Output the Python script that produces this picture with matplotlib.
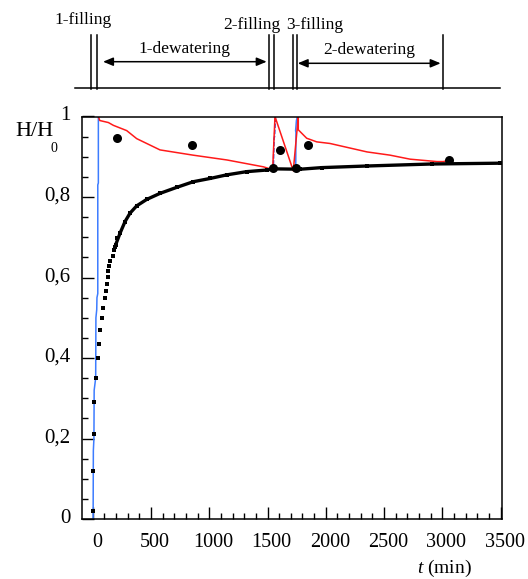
import matplotlib
matplotlib.use('Agg')
import matplotlib.pyplot as plt
import matplotlib.transforms as mtransforms
from matplotlib.ticker import MultipleLocator, FuncFormatter

plt.rcParams['font.family'] = ['Liberation Serif', 'DejaVu Serif']
plt.rcParams['mathtext.fontset'] = 'custom'
plt.rcParams['mathtext.rm'] = 'Liberation Serif'
plt.rcParams['mathtext.it'] = 'Liberation Serif:italic'

# model curve, early part (separate dots)
dots_t = [0, 5, 11, 13, 31, 48, 51, 62, 79, 91, 108, 114, 120, 128, 134, 142, 151, 176, 182, 197, 208]
dots_h = [0.02, 0.12, 0.21, 0.29, 0.35, 0.40, 0.435, 0.47, 0.50, 0.523, 0.548, 0.567, 0.583, 0.602,
          0.616, 0.629, 0.641, 0.653, 0.668, 0.68, 0.697]
# model curve, later part (dense -> thick line)
model_t = [191, 234, 277, 320, 377, 463, 577, 721, 863, 1006, 1150, 1321, 1493, 1547, 1779, 1965,
           2351, 2909, 3495]
model_h = [0.677, 0.71, 0.739, 0.76, 0.778, 0.794, 0.809, 0.824, 0.838, 0.846, 0.855, 0.863, 0.867,
           0.87, 0.869, 0.873, 0.877, 0.882, 0.884]

# measured points
meas_t = [211, 852, 1550, 1607, 1744, 1850, 3060]
meas_h = [0.946, 0.928, 0.871, 0.918, 0.871, 0.929, 0.892]

# red curve
red_t = [48, 60, 134, 177, 291, 377, 577, 860, 1152, 1464, 1544, 1564, 1721, 1764, 1764, 1836, 1922,
         2036, 2354, 2551, 2723, 2955, 3009, 3066]
red_h = [1.0, 0.99, 0.985, 0.978, 0.965, 0.945, 0.917, 0.904, 0.892, 0.875, 0.868, 1.0, 0.865, 1.0,
         0.967, 0.946, 0.937, 0.933, 0.912, 0.904, 0.894, 0.888, 0.888, 0.892]

# filling curves
fill1_t = [3, 5, 10, 12, 25, 27, 34, 36, 43, 43, 48, 48]
fill1_h = [0.0, 0.17, 0.2, 0.32, 0.35, 0.5, 0.52, 0.55, 0.56, 0.83, 0.835, 1.0]
fill2_t = [1550, 1552, 1553, 1556, 1560, 1568]
fill2_h = [0.865, 0.90, 0.91, 0.945, 0.95, 1.0]
fill3_t = [1742, 1744, 1741, 1748, 1756]
fill3_h = [0.865, 0.96, 0.965, 0.99, 1.0]

# phase scheme on top
phase_lines = [-15, 39, 1513, 1558, 1721, 1750, 3003]
phase_names = ['1-filling', '2-filling', '3-filling']
phase_name_t = [-79, 1362, 1907]
dewater_names = ['1-dewatering', '2-dewatering']
dewater_from = [88, 1759]
dewater_to = [1493, 2986]

W, H = 528, 579
fig = plt.figure(figsize=(W / 100, H / 100), dpi=100)
ax = fig.add_axes([81.7 / W, 60 / H, 420 / W, 402.5 / H])

ax.plot(fill1_t, fill1_h, color='#3d7cff', lw=1.1)
ax.plot(fill2_t, fill2_h, color='#1d35d8', lw=1.1, ls=(0, (3, 1)))
ax.plot(fill3_t, fill3_h, color='#3d7cff', lw=1.1)
ax.plot(red_t, red_h, color='#ff1a1a', lw=1.1)
ax.plot(dots_t, dots_h, 's', color='black', ms=2.6, mew=0)
ax.plot(model_t, model_h, '-s', color='black', lw=2.4, ms=2.6, mew=0)
ax.plot(meas_t, meas_h, 'o', color='black', ms=6.5, mew=0)

ax.set_xlim(-95, 3510)
ax.set_ylim(0, 1)
ax.xaxis.set_major_locator(MultipleLocator(500))
ax.xaxis.set_minor_locator(MultipleLocator(100))
ax.yaxis.set_major_locator(MultipleLocator(0.2))
ax.yaxis.set_minor_locator(MultipleLocator(0.05))


def fmt(v, pos):
    if abs(v) < 1e-9:
        return '0'
    if abs(v - 1) < 1e-9:
        return '1'
    return ('%.1f' % v).replace('.', ',')


ax.yaxis.set_major_formatter(FuncFormatter(fmt))
ax.tick_params(which='both', direction='in', top=False, right=False, width=1)
ax.tick_params(which='major', length=8.3)
ax.tick_params(which='minor', length=4.5)
ax.tick_params(axis='x', pad=10, labelsize=14.5)
ax.tick_params(axis='y', pad=8, labelsize=15)
for s in ax.spines.values():
    s.set_linewidth(1.1)
shift_x = mtransforms.ScaledTranslation(4 / 100, 0, fig.dpi_scale_trans)
for lab in ax.get_xticklabels():
    lab.set_transform(lab.get_transform() + shift_x)
shift_y = mtransforms.ScaledTranslation(0, 3 / 100, fig.dpi_scale_trans)
for lab in ax.get_yticklabels():
    lab.set_transform(lab.get_transform() + shift_y)

fig.text(53 / W, 1 - 131.5 / H, 'H/H', fontsize=16, va='center', ha='right')
fig.text(53.5 / W, 1 - 148 / H, '0', fontsize=10, va='center', ha='center')
fig.text(444 / W, 1 - 568 / H, '$t$ (min)', fontsize=14, va='center', ha='center')

# top scheme
top = fig.add_axes([81.7 / W, 1 - 100 / H, 420 / W, 90 / H])
top.set_xlim(ax.get_xlim())
top.set_ylim(0, 90)
top.axis('off')
top.plot([-152, 3495], [11.7, 11.7], color='black', lw=1.1, clip_on=False)
for t in phase_lines:
    top.plot([t, t], [10.7, 65], color='black', lw=1.1, clip_on=False)
for name, t, y in zip(phase_names, phase_name_t, [80, 75, 75]):
    top.text(t, y, name, fontsize=12.5, ha='center', va='center', clip_on=False)
for name, a, b, y in zip(dewater_names, dewater_from, dewater_to, [38.3, 36.7]):
    top.annotate('', xy=(b, y), xytext=(a, y),
                 arrowprops=dict(arrowstyle='<|-|>,head_length=0.6,head_width=0.25',
                                 color='black', lw=1.1, shrinkA=0, shrinkB=0))
    top.text((a + b) / 2, y + 13, name, fontsize=12.5, ha='center', va='center')

fig.savefig('out.png', dpi=100)
